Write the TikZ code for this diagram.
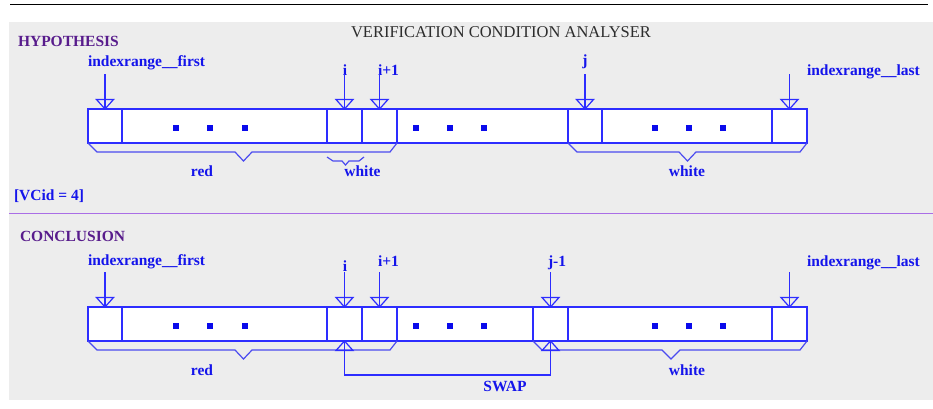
\documentclass[tikz,border=0pt]{standalone}
\usepackage{fontspec}
\setmainfont{Liberation Serif}
\usetikzlibrary{calc}

\definecolor{panelgray}{RGB}{237,237,237}
\definecolor{rulepurple}{RGB}{170,110,230}
\definecolor{headpurple}{RGB}{88,28,140}
\definecolor{titlegray}{RGB}{45,45,45}
\definecolor{labelblue}{RGB}{20,20,235}
\definecolor{lineblue}{RGB}{45,45,255}
\definecolor{braceblue}{RGB}{75,75,240}
\definecolor{dotblue}{RGB}{10,10,235}

\tikzset{
  x=1pt, y=-1pt,
  txt/.style={inner sep=0pt, outer sep=0pt, font=\fontsize{15.5}{18}\selectfont\bfseries, text=labelblue},
  heading/.style={txt, text=headpurple},
  cell/.style={draw=lineblue, fill=white, line width=1.2pt, inner sep=0pt, outer sep=0pt,
    minimum height=34pt, anchor=north west},
  dotmark/.style={fill=dotblue, inner sep=0pt, minimum width=6.5pt, minimum height=6pt},
  ptr/.style={draw=lineblue, line width=1.2pt},
  bracepath/.style={draw=braceblue, line width=1.2pt, line join=miter},
  openhead/.pic={\draw[ptr] (-8.5,-9.5) -- (0,0) -- (8.5,-9.5) -- cycle;}
}

\begin{document}
\begin{tikzpicture}
\useasboundingbox (0,0) rectangle (933,408);

% frame: top rule, grey panel, section divider
\draw[black, line width=1.5pt] (10,4.5) -- (928,4.5);
\fill[panelgray] (9,22) rectangle (933,400);
\draw[rulepurple, line width=1pt] (9,213) -- (933,213);

\node[inner sep=0pt, anchor=base, font=\fontsize{16.5}{19}\selectfont, text=titlegray]
  (title) at (501,37.5) {VERIFICATION CONDITION ANALYSER};

% ---------------- hypothesis ----------------
\node[heading, anchor=base west] (hyp) at (18,46) {HYPOTHESIS};

\node[cell, minimum width=34pt]  (hA) at (88,109) {};
\node[cell, minimum width=205pt] (hB) at (122,109) {};
\node[cell, minimum width=35pt]  (hC) at (327,109) {};
\node[cell, minimum width=35pt]  (hD) at (362,109) {};
\node[cell, minimum width=171pt] (hE) at (397,109) {};
\node[cell, minimum width=34pt]  (hF) at (568,109) {};
\node[cell, minimum width=170pt] (hG) at (602,109) {};
\node[cell, minimum width=35pt]  (hH) at (772,109) {};

\foreach \dx [count=\k] in {176,210,245,416,450,484,655,689,723}
  \node[dotmark] (hdot\k) at (\dx,128) {};

\node[txt, anchor=base west] (hlfirst) at (88,66) {indexrange\_\_first};
\node[txt, anchor=base]      (hli)     at (345,75) {i};
\node[txt, anchor=base west] (hlip)    at (378,75) {i+1};
\node[txt, anchor=base]      (hlj)     at (585,65) {j};
\node[txt, anchor=base west] (hllast)  at (807,75) {indexrange\_\_last};

\foreach \c in {hA,hC,hD,hF,hH}{
  \coordinate (\c top) at ($(\c.north)+(0,-35)$);
  \draw[ptr] (\c top) -- (\c.north);
  \pic at (\c.north) {openhead};
}

\draw[bracepath] (hA.south west) -- (97,152) -- (235,152) -- (243.5,161) -- (252,152)
  -- (390,152) -- (hD.south east);
\draw[bracepath] (327,157) -- (333,161) -- (342,161) -- (345.5,165) -- (349,161)
  -- (359,161) -- (364,157);
\draw[bracepath] (hF.south west) -- (577,152) -- (679,152) -- (687.5,161) -- (696,152)
  -- (800,152) -- (hH.south east);

\node[txt, anchor=base] (hred)    at (202,176.5) {red};
\node[txt, anchor=base] (hwhite1) at (362.5,176.5) {white};
\node[txt, anchor=base] (hwhite2) at (687,176.5) {white};

\node[txt, anchor=base west] (vcid) at (14,200) {[VCid = 4]};

% ---------------- conclusion ----------------
\node[heading, anchor=base west] (concl) at (20,241.5) {CONCLUSION};

\node[cell, minimum width=34pt]  (cA) at (88,307) {};
\node[cell, minimum width=205pt] (cB) at (122,307) {};
\node[cell, minimum width=35pt]  (cC) at (327,307) {};
\node[cell, minimum width=35pt]  (cD) at (362,307) {};
\node[cell, minimum width=136pt] (cE) at (397,307) {};
\node[cell, minimum width=35pt]  (cF) at (533,307) {};
\node[cell, minimum width=204pt] (cG) at (568,307) {};
\node[cell, minimum width=35pt]  (cH) at (772,307) {};

\foreach \dx [count=\k] in {176,210,245,416,450,484,655,689,723}
  \node[dotmark] (cdot\k) at (\dx,326) {};

\node[txt, anchor=base west] (clfirst) at (88,265.5) {indexrange\_\_first};
\node[txt, anchor=base]      (cli)     at (345,271.5) {i};
\node[txt, anchor=base west] (clip)    at (378,266.5) {i+1};
\node[txt, anchor=base west] (cljm)    at (548,266.5) {j-1};
\node[txt, anchor=base west] (cllast)  at (807,266.5) {indexrange\_\_last};

\foreach \c in {cA,cC,cD,cF,cH}{
  \coordinate (\c top) at ($(\c.north)+(0,-35)$);
  \draw[ptr] (\c top) -- (\c.north);
  \pic at (\c.north) {openhead};
}

\draw[bracepath] (cA.south west) -- (97,350) -- (235,350) -- (243.5,359) -- (252,350)
  -- (390,350) -- (cD.south east);
\draw[bracepath] (cF.south west) -- (542,350) -- (662,350) -- (671,359) -- (680,350)
  -- (800,350) -- (cH.south east);

% swap connector between cells i and j-1
\draw[ptr] (cC.south) -- ++(0,34) -| (cF.south);
\pic[rotate=180] at (cC.south) {openhead};
\pic[rotate=180] at (cF.south) {openhead};

\node[txt, anchor=base] (cred)   at (202,375) {red};
\node[txt, anchor=base] (cwhite) at (687,375) {white};
\node[txt, anchor=base] (swap)   at (505,391.5) {SWAP};
\end{tikzpicture}
\end{document}
